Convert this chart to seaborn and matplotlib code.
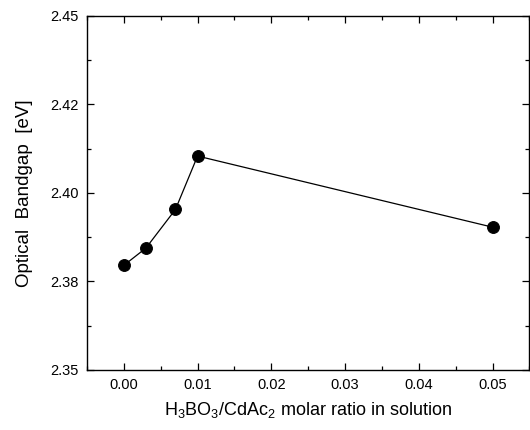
import numpy as np
import pandas as pd
import seaborn as sns
import matplotlib.pyplot as plt
from matplotlib.ticker import MultipleLocator, FixedLocator, FixedFormatter

# molar ratio H3BO3/CdAc2 and measured optical bandgap (eV)
ratio = [0.0, 0.003, 0.007, 0.010, 0.050]
bandgap = [2.3795, 2.3844, 2.3953, 2.4104, 2.3903]

y_ticks = [2.35, 2.375, 2.40, 2.425, 2.45]
y_tick_labels = ["2.35", "2.38", "2.40", "2.42", "2.45"]
x_ticks = [0.00, 0.01, 0.02, 0.03, 0.04, 0.05]
x_tick_labels = ["0.00", "0.01", "0.02", "0.03", "0.04", "0.05"]

sns.set_style("ticks")
plt.rcParams['font.family'] = ['Liberation Sans', 'DejaVu Sans']
plt.rcParams['mathtext.default'] = 'regular'
plt.rcParams['text.color'] = 'black'
plt.rcParams['axes.labelcolor'] = 'black'
plt.rcParams['xtick.color'] = 'black'
plt.rcParams['ytick.color'] = 'black'

df = pd.DataFrame({"ratio": ratio, "bandgap": bandgap})

fig = plt.figure(figsize=(5.3, 4.3), dpi=100)
ax = fig.add_axes([0.164, 0.14, 0.835, 0.823])

sns.lineplot(data=df, x="ratio", y="bandgap", ax=ax, color="black",
             linewidth=0.9, marker="o", markersize=8.5, markeredgecolor="black",
             markerfacecolor="black", sort=False)

ax.set_xlim(-0.005, 0.055)
ax.set_ylim(2.35, 2.45)
ax.xaxis.set_major_locator(FixedLocator(x_ticks))
ax.xaxis.set_major_formatter(FixedFormatter(x_tick_labels))
ax.xaxis.set_minor_locator(MultipleLocator(0.005))
ax.yaxis.set_major_locator(FixedLocator(y_ticks))
ax.yaxis.set_major_formatter(FixedFormatter(y_tick_labels))
ax.yaxis.set_minor_locator(MultipleLocator(0.0125))

ax.tick_params(which="both", direction="in", top=True, right=True,
               labelsize=10.5, color="black", labelcolor="black", width=0.9)
ax.tick_params(which="major", length=5, pad=6)
ax.tick_params(which="minor", length=3)
for s in ax.spines.values():
    s.set_linewidth(1.0)
    s.set_color("black")

ax.set_xlabel("H$_3$BO$_3$/CdAc$_2$ molar ratio in solution", fontsize=13, labelpad=6)
ax.set_ylabel("Optical  Bandgap  [eV]", fontsize=13.5, labelpad=12)

fig.savefig("out.png", dpi=100)
